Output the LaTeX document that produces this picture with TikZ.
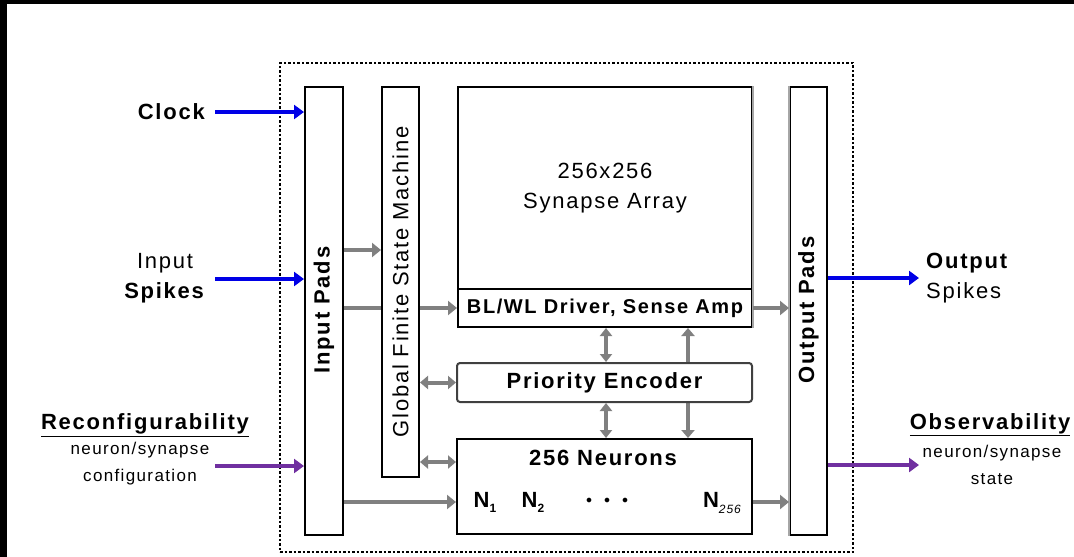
\documentclass[tikz,border=0pt]{standalone}
\usepackage{fontspec}
\setmainfont{Liberation Sans}[LetterSpace=8]
\usetikzlibrary{arrows.meta}
\definecolor{arblue}{RGB}{0,0,230}
\definecolor{arpurple}{RGB}{112,48,160}
\definecolor{argray}{RGB}{128,128,128}
\begin{document}
\begin{tikzpicture}[x=1pt,y=-1pt,
  every node/.style={font=\fontsize{22}{30}\selectfont},
  box/.style={draw=black,line width=2pt,fill=white,inner sep=0pt},
  lbl/.style={inner sep=0pt},
  small/.style={inner sep=0pt,align=center,font=\fontsize{17}{27}\selectfont},
  bluearrow/.style={draw=arblue,line width=4.5pt,-{Triangle[length=10pt,width=14pt]}},
  purparrow/.style={draw=arpurple,line width=4.5pt,-{Triangle[length=10pt,width=14pt]}},
  grayarrow/.style={draw=argray,line width=4pt,-{Triangle[length=9pt,width=14pt]}},
  grayline/.style={draw=argray,line width=4pt},
  graydbl/.style={draw=argray,line width=4pt,{Triangle[length=8pt,width=13pt]}-{Triangle[length=8pt,width=13pt]}},
  grayvdbl/.style={draw=argray,line width=3.5pt,{Triangle[length=8pt,width=12pt]}-{Triangle[length=8pt,width=12pt]}},
  grayvthick/.style={draw=argray,line width=4.5pt,{Triangle[length=8pt,width=13pt]}-{Triangle[length=8pt,width=13pt]}}
]
\useasboundingbox (0,0) rectangle (1074,557);
\fill[white] (0,0) rectangle (1074,557);
\fill[black] (0,0) rectangle (1074,4);
\fill[black] (0,0) rectangle (7,557);

% dotted frame
\node[draw=black,line width=2.5pt,dash pattern=on 2.5pt off 2pt,inner sep=0pt,
  minimum width=573pt,minimum height=489pt] (frame) at (566.5,307.5) {};

% main blocks
\node[box,minimum width=38pt,minimum height=448pt] (inpads) at (324,311) {};
\node[lbl,rotate=90,font=\fontsize{22}{30}\selectfont\bfseries] (inpadst) at (324,310) {Input Pads};
\node[box,minimum width=294pt,minimum height=202pt,align=center] (syn) at (605,188) {256x256\\Synapse Array};
\node[box,minimum width=294pt,minimum height=38pt,font=\fontsize{20}{24}\selectfont\bfseries] (drv) at (605,308) {BL/WL Driver, Sense Amp};
\node[box,minimum width=37pt,minimum height=448pt] (outpads) at (808.5,311) {};
\node[lbl,rotate=90,font=\fontsize{22}{30}\selectfont\bfseries] (outpadst) at (808.5,310) {Output Pads};
\draw[argray!70,line width=2.5pt] (syn.north east) -- (drv.south east);
\draw[argray!70,line width=2.5pt] (outpads.north west) -- (outpads.south west);

% connectors that pass behind blocks
\draw[grayline] (inpads.east |- 0,308) -- (400,308);
\draw[grayvthick] (drv.south -| 688,0) -- (688,438);

\node[box,minimum width=37pt,minimum height=390pt] (gfsm) at (400.5,282) {};
\node[lbl,rotate=90] (gfsmt) at (400.5,282) {Global Finite State Machine};
\node[box,draw=black!75,rounded corners=3pt,minimum width=295pt,minimum height=39pt,font=\fontsize{22}{30}\selectfont\bfseries] (pe) at (604.5,382.5) {Priority Encoder};
\node[box,minimum width=295pt,minimum height=95pt] (neur) at (604.5,486.5) {};
\node[lbl,font=\fontsize{22}{30}\selectfont\bfseries] (neurt) at (603,458) {256 Neurons};
\node[lbl,font=\fontsize{22}{30}\selectfont\bfseries] (n1) at (485,502) {N\raisebox{-5pt}{\fontsize{12}{12}\selectfont 1}};
\node[lbl,font=\fontsize{22}{30}\selectfont\bfseries] (n2) at (533,502) {N\raisebox{-5pt}{\fontsize{12}{12}\selectfont 2}};
\node[lbl,font=\fontsize{12}{12}\selectfont] (ndots) at (607,501) {$\bullet$\quad$\bullet$\quad$\bullet$};
\node[lbl,font=\fontsize{22}{30}\selectfont\bfseries] (n256) at (722,503) {N\raisebox{-6pt}{\fontsize{12}{12}\selectfont\mdseries\itshape 256}};

% left labels
\node[lbl,anchor=east,font=\fontsize{22}{30}\selectfont\bfseries] (clk) at (205,112) {Clock};
\node[lbl,align=center] (inspk) at (165,278) {Input\\\textbf{Spikes}};
\node[lbl,font=\fontsize{22}{30}\selectfont\bfseries] (recon) at (145,425) {\underline{Reconfigurability}};
\node[small] (reconsub) at (140,464) {neuron/synapse\\configuration};
\coordinate (clkS) at (215,112);
\coordinate (inS) at (215,279);
\coordinate (recS) at (215,466);

% right labels
\node[lbl,anchor=west,align=left] (outspk) at (926,278) {\textbf{Output}\\Spikes};
\node[lbl,font=\fontsize{22}{30}\selectfont\bfseries] (obs) at (990,425) {\underline{Observability}};
\node[small] (obssub) at (992,465) {neuron/synapse\\state};
\coordinate (outE) at (919,278);
\coordinate (obsE) at (919,465);

% input arrows
\draw[bluearrow] (clkS) -- (inpads.west |- clkS);
\draw[bluearrow] (inS) -- (inpads.west |- inS);
\draw[purparrow] (recS) -- (inpads.west |- recS);

% output arrows
\draw[bluearrow] (outpads.east |- outE) -- (outE);
\draw[purparrow] (outpads.east |- obsE) -- (obsE);

% gray internal connectors
\draw[grayarrow] (inpads.east |- 0,250) -- (gfsm.west |- 0,250);
\draw[grayarrow] (gfsm.east |- 0,308) -- (drv.west);
\draw[graydbl] (gfsm.east |- pe.west) -- (pe.west);
\draw[graydbl] (gfsm.east |- 0,462) -- (neur.west |- 0,462);
\draw[grayarrow] (inpads.east |- 0,502) -- (neur.west |- 0,502);
\draw[grayarrow] (drv.east) -- (outpads.west |- drv.east);
\draw[grayarrow] (neur.east |- 0,502) -- (outpads.west |- 0,502);
\draw[grayvdbl] (drv.south -| 606,0) -- (pe.north -| 606,0);
\draw[grayvdbl] (pe.south -| 606,0) -- (neur.north -| 606,0);
\end{tikzpicture}
\end{document}
